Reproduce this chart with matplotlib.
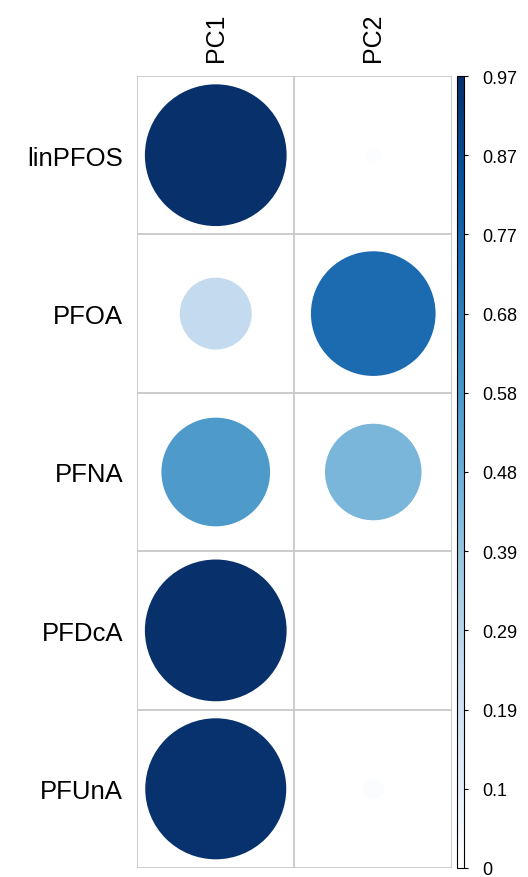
import numpy as np
import matplotlib
matplotlib.use("Agg")
import matplotlib.pyplot as plt
from matplotlib.patches import Ellipse
from matplotlib.colors import Normalize, LinearSegmentedColormap
from matplotlib.colorbar import ColorbarBase

plt.rcParams['font.family'] = ['Liberation Sans', 'DejaVu Sans']

# data: loadings (absolute) of each compound on the two PCs
compounds = ['linPFOS', 'PFOA', 'PFNA', 'PFDcA', 'PFUnA']
components = ['PC1', 'PC2']
pc1 = [0.97, 0.25, 0.57, 0.97, 0.96]
pc2 = [0.012, 0.75, 0.45, 0.002, 0.021]
vmax = 0.97
cbar_ticks = [0, 0.1, 0.19, 0.29, 0.39, 0.48, 0.58, 0.68, 0.77, 0.87, 0.97]

W, H = 528, 878
fig = plt.figure(figsize=(W / 100, H / 100), dpi=100)

# grid area in pixels
gl, gr, gt, gb = 137, 452, 77, 869
ax = fig.add_axes([gl / W, (H - gb) / H, (gr - gl) / W, (gb - gt) / H])
ax.set_xlim(0.5, 2.5)
ax.set_ylim(5.5, 0.5)

# brewer Blues, starting from pure white
blues = ['#ffffff', '#deebf7', '#c6dbef', '#9ecae1', '#6baed6',
         '#4292c6', '#2171b5', '#08519c', '#08306b']
cmap = LinearSegmentedColormap.from_list('wblues', blues, N=256)
norm = Normalize(0, vmax)

cell_w = (gr - gl) / 2
cell_h = (gb - gt) / 5
vals = np.array([pc1, pc2]).T
for i, name in enumerate(compounds):
    for j in range(2):
        v = vals[i, j]
        r = 0.45 * np.sqrt(v / vmax)
        e = Ellipse((j + 1, i + 1), 2 * r, 2 * r * cell_w / cell_h,
                    facecolor=cmap(norm(v)), edgecolor='none')
        ax.add_patch(e)

# grid lines
for x in [0.5, 1.5, 2.5]:
    ax.axvline(x, color='#c8c8c8', lw=1.3)
for y in [0.5, 1.5, 2.5, 3.5, 4.5, 5.5]:
    ax.axhline(y, color='#c8c8c8', lw=1.3)

for s in ax.spines.values():
    s.set_visible(False)
ax.set_xticks([1, 2])
ax.set_xticklabels(components, rotation=90, fontsize=18)
ax.xaxis.tick_top()
ax.set_yticks(range(1, 6))
ax.set_yticklabels(compounds, fontsize=18.5)
ax.tick_params(axis='y', length=0, pad=10)
ax.tick_params(axis='x', length=0, pad=11)

# colour bar
cax = fig.add_axes([457 / W, (H - gb) / H, 7 / W, (gb - gt) / H])
cb = ColorbarBase(cax, cmap=cmap, norm=norm, orientation='vertical')
cb.set_ticks(np.linspace(0, vmax, 11))
cb.set_ticklabels([str(t) for t in cbar_ticks])
cb.outline.set_linewidth(0.8)
cax.tick_params(labelsize=13, length=3, width=0.8, pad=10)

fig.savefig('out.png', dpi=100)
